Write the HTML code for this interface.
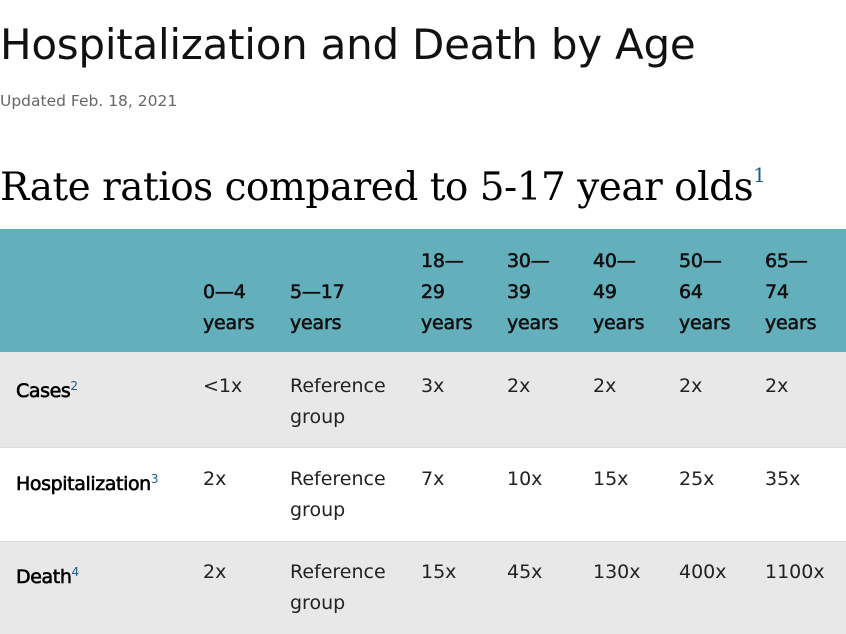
<!DOCTYPE html>
<html><head><meta charset="utf-8"><style>
body{margin:0;width:846px;height:633px;overflow:hidden;background:#fff;font-family:"DejaVu Sans","Liberation Sans",sans-serif;color:#000;position:relative}
.a{position:absolute;white-space:nowrap}
h1{position:absolute;left:0;top:20px;margin:0;font-weight:normal;font-size:42px;font-family:"DejaVu Sans",sans-serif;letter-spacing:-0.25px;color:#111}
.upd{left:0;top:92px;font-size:15.5px;color:#666}
h2{position:absolute;left:0;top:163px;margin:0;font-weight:normal;font-size:39px;font-family:"DejaVu Serif","Liberation Serif",serif;letter-spacing:-0.5px}
h2 sup{font-size:20px;color:#1a5a8c;vertical-align:18px}
.hd{position:absolute;left:0;top:229px;width:846px;height:123px;background:#64afbc}
.r{position:absolute;left:0;width:846px}
.t{font-size:19px;line-height:31px;color:#222}
.h{font-size:19px;line-height:31px;color:#111;-webkit-text-stroke:0.6px #111;letter-spacing:-0.2px}
.lb{color:#000;-webkit-text-stroke:0.6px #000;letter-spacing:-0.4px}
.lb sup{font-size:12px;color:#1a5a8c;-webkit-text-stroke:0;vertical-align:7px}
</style></head><body>
<h1>Hospitalization and Death by Age</h1>
<div class="a upd">Updated Feb. 18, 2021</div>
<h2>Rate ratios compared to 5-17 year olds<sup>1</sup></h2>
<div class="hd"></div>
<div class="r" style="top:352px;height:95px;background:#e8e8e8;border-bottom:1px solid #ddd"></div>
<div class="r" style="top:541px;height:92px;background:#e8e8e8;border-top:1px solid #ddd"></div>

<div class="a h" style="left:203px;top:277px">0—4<br>years</div>
<div class="a h" style="left:290px;top:277px">5—17<br>years</div>
<div class="a h" style="left:421px;top:246px">18—<br>29<br>years</div>
<div class="a h" style="left:507px;top:246px">30—<br>39<br>years</div>
<div class="a h" style="left:593px;top:246px">40—<br>49<br>years</div>
<div class="a h" style="left:679px;top:246px">50—<br>64<br>years</div>
<div class="a h" style="left:765px;top:246px">65—<br>74<br>years</div>

<div class="a t lb" style="left:16px;top:371px">Cases<sup>2</sup></div>
<div class="a t" style="left:203px;top:371px">&lt;1x</div>
<div class="a t" style="left:290px;top:371px">Reference<br>group</div>
<div class="a t" style="left:421px;top:371px">3x</div>
<div class="a t" style="left:507px;top:371px">2x</div>
<div class="a t" style="left:593px;top:371px">2x</div>
<div class="a t" style="left:679px;top:371px">2x</div>
<div class="a t" style="left:765px;top:371px">2x</div>

<div class="a t lb" style="left:16px;top:464px">Hospitalization<sup>3</sup></div>
<div class="a t" style="left:203px;top:464px">2x</div>
<div class="a t" style="left:290px;top:464px">Reference<br>group</div>
<div class="a t" style="left:421px;top:464px">7x</div>
<div class="a t" style="left:507px;top:464px">10x</div>
<div class="a t" style="left:593px;top:464px">15x</div>
<div class="a t" style="left:679px;top:464px">25x</div>
<div class="a t" style="left:765px;top:464px">35x</div>

<div class="a t lb" style="left:16px;top:557px">Death<sup>4</sup></div>
<div class="a t" style="left:203px;top:557px">2x</div>
<div class="a t" style="left:290px;top:557px">Reference<br>group</div>
<div class="a t" style="left:421px;top:557px">15x</div>
<div class="a t" style="left:507px;top:557px">45x</div>
<div class="a t" style="left:593px;top:557px">130x</div>
<div class="a t" style="left:679px;top:557px">400x</div>
<div class="a t" style="left:765px;top:557px">1100x</div>
</body></html>
